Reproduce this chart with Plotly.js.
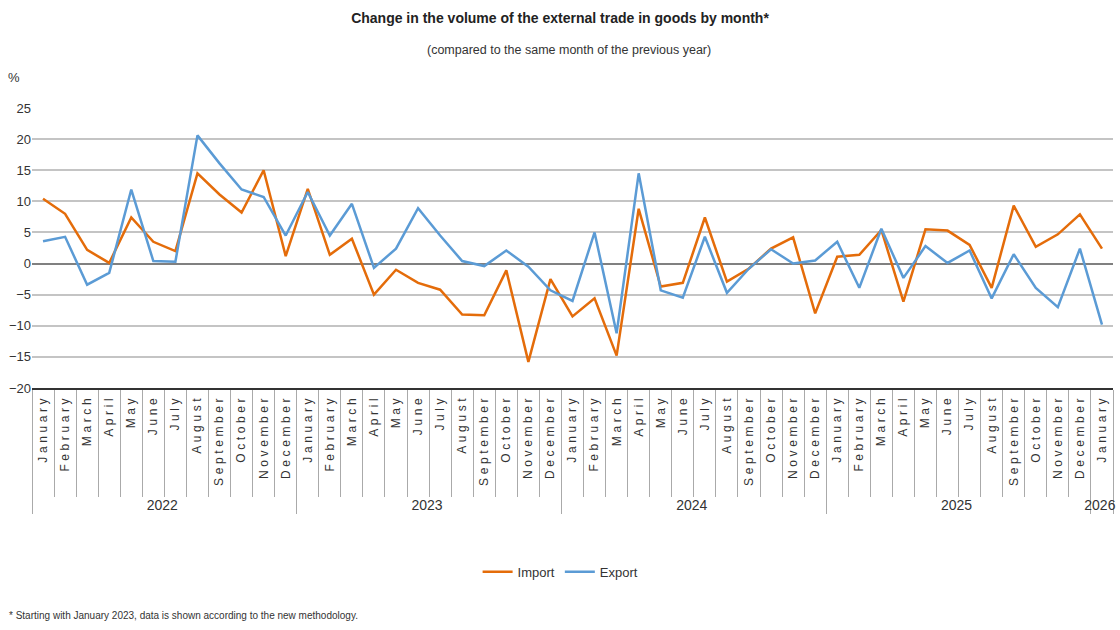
<!DOCTYPE html>
<html>
<head>
<meta charset="utf-8">
<script src="https://cdn.plot.ly/plotly-3.0.1.min.js"></script>
<style>html,body{margin:0;padding:0;background:#fff;}#chart{width:1120px;height:630px;}</style>
</head>
<body>
<div id="chart"></div>
<script>
var monthNames = ["January","February","March","April","May","June","July","August","September","October","November","December"];
var years = ["2022","2023","2024","2025","2026"];
var monthsPerYear = [12,12,12,12,1];

var importValues = [
  10.4, 8.0, 2.2, 0.1, 7.4, 3.5, 2.0, 14.5, 11.1, 8.2, 15.0, 1.2,
  12.0, 1.4, 4.0, -5.0, -1.0, -3.1, -4.2, -8.2, -8.3, -1.1, -15.8, -2.5,
  -8.5, -5.6, -14.8, 8.8, -3.7, -3.1, 7.4, -2.9, -0.8, 2.4, 4.2, -8.0,
  1.1, 1.4, 5.4, -6.1, 5.5, 5.3, 3.0, -3.9, 9.3, 2.7, 4.7, 7.9,
  2.4
];
var exportValues = [
  3.6, 4.3, -3.4, -1.5, 11.9, 0.4, 0.3, 20.6, 16.1, 11.9, 10.7, 4.5,
  11.5, 4.5, 9.6, -0.7, 2.4, 8.9, 4.5, 0.4, -0.4, 2.1, -0.5, -4.3,
  -6.0, 5.0, -11.2, 14.5, -4.3, -5.5, 4.3, -4.7, -0.8, 2.3, 0.0, 0.5,
  3.5, -3.9, 5.6, -2.3, 2.8, 0.1, 2.1, -5.6, 1.5, -3.9, -7.0, 2.4,
  -9.8
];
var yTickVals = [-20,-15,-10,-5,0,5,10,15,20,25];

// month labels get the wide letter spacing seen in the reference; year labels are larger
function spaced(s){ return '<span style="letter-spacing:3.6px">' + s + '</span>'; }
function bigYear(s){ return '<span style="font-size:14px">' + s + '</span>'; }

var xYears = [], xMonths = [];
years.forEach(function(y, yi){
  for (var m = 0; m < monthsPerYear[yi]; m++) { xYears.push(bigYear(y)); xMonths.push(spaced(monthNames[m])); }
});
var nCats = xMonths.length;

var FONT = "'Liberation Sans', Arial, sans-serif";

var traces = [
  {x:[xYears,xMonths], y:importValues, type:'scatter', mode:'lines', name:'Import',
   line:{color:'#E46C0A', width:2.5}, hoverinfo:'y'},
  {x:[xYears,xMonths], y:exportValues, type:'scatter', mode:'lines', name:'Export',
   line:{color:'#5B9BD5', width:2.5}, hoverinfo:'y'}
];

var layout = {
  width:1120, height:630,
  margin:{l:32, r:7, t:108, b:242},
  paper_bgcolor:'#fff', plot_bgcolor:'#fff',
  font:{family:FONT, size:12, color:'#333'},
  showlegend:true,
  legend:{orientation:'h', x:0.489, xanchor:'center', y:-0.656, yanchor:'middle',
          font:{family:FONT, size:13, color:'#333'}},
  title:{text:'<b>Change in the volume of the external trade in goods by month*</b>',
         x:0.5, xanchor:'center', y:0.972, yref:'container', yanchor:'middle',
         font:{family:FONT, size:14, color:'#222'}},
  xaxis:{type:'multicategory', tickangle:-90, showgrid:false,
         range:[-0.5, nCats-0.5], autorange:false,
         showline:true, linecolor:'#333', linewidth:2,
         ticks:'outside', tickson:'boundaries', ticklen:107, tickcolor:'#aaa', tickwidth:1,
         showdividers:true, dividercolor:'#aaa', dividerwidth:1,
         tickfont:{family:FONT, size:12, color:'#333'}},
  yaxis:{range:[-20,25], tickvals:yTickVals, showgrid:true, gridcolor:'#c4c4c4', gridwidth:1.5,
         zeroline:true, zerolinecolor:'#808080', zerolinewidth:2,
         showline:false, ticks:'', tickfont:{family:FONT, size:13, color:'#333'}},
  annotations:[
    {text:'(compared to the same month of the previous year)', xref:'paper', yref:'paper',
     x:0.4965, y:1.207, xanchor:'center', yanchor:'middle', showarrow:false,
     font:{family:FONT, size:12.5, color:'#333'}},
    {text:'%', xref:'paper', yref:'paper', x:-0.017, y:1.11, xanchor:'center', yanchor:'middle',
     showarrow:false, font:{family:FONT, size:13, color:'#333'}},
    {text:'* Starting with January 2023, data is shown according to the new methodology.',
     xref:'paper', yref:'paper', x:-0.023, y:-0.812, xanchor:'left', yanchor:'middle',
     showarrow:false, font:{family:FONT, size:10, color:'#333'}}
  ]
};

Plotly.newPlot('chart', traces, layout, {displayModeBar:false, responsive:false});
</script>
</body>
</html>
